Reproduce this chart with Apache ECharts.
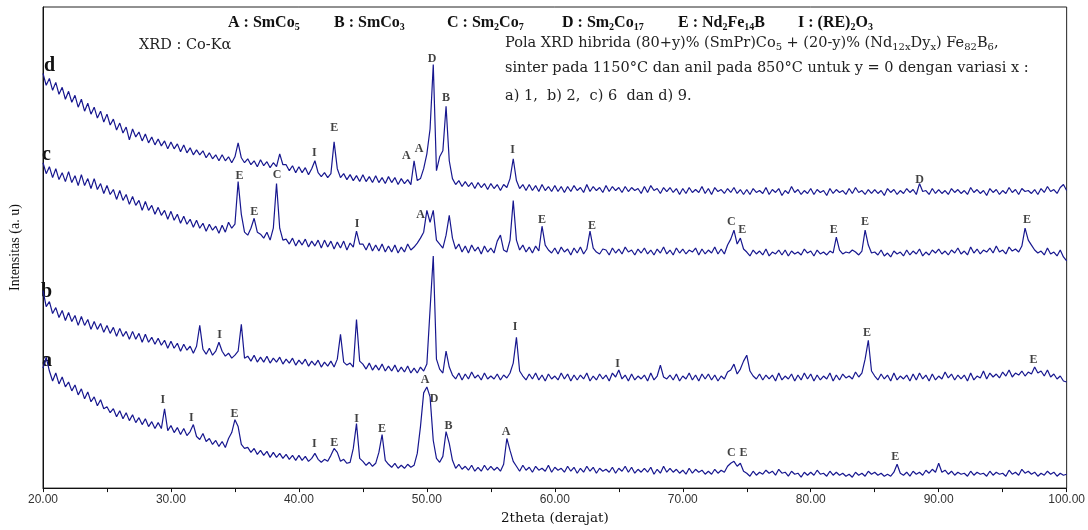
<!DOCTYPE html>
<html>
<head>
<meta charset="utf-8">
<script src="https://cdn.jsdelivr.net/npm/echarts@6/dist/echarts.min.js"></script>
<style>
  html, body { margin: 0; padding: 0; background: #fff; }
  #chart { width: 1088px; height: 530px; }
</style>
</head>
<body>
<div id="chart"></div>
<script>
// 2theta grid, 20.00 .. 100.00 every 0.25
const thetaStart = 20, thetaStep = 0.25, thetaCount = 321;
const twoTheta = Array.from({ length: thetaCount }, (_, i) => thetaStart + i * thetaStep);

// intensities (a.u., stacked offsets already included)
const traceD = [
  418,406,413,401, 409,397,404,392, 400,389,396,384, 392,380,388,377, 384,373,380,369,
  377,366,372,361, 368,358,364,351, 362,354,359,350, 357,348,354,346, 352,345,350,342,
  349,342,347,339, 346,338,343,336, 341,336,340,333, 338,332,336,330, 336,330,334,328,
  334,348,333,328, 332,326,330,324, 331,325,329,323, 328,324,337,326, 326,320,325,318,
  324,318,323,316, 322,330,318,314, 318,313,317,349, 322,313,317,311, 316,310,315,309,
  316,309,314,308, 315,308,313,307, 314,308,313,306, 312,307,311,306, 330,310,312,322,
  337,362,427,320, 334,340,385,330, 312,306,310,304, 309,304,308,302, 308,303,307,301,
  307,302,306,300, 306,303,312,332, 310,302,306,300, 306,300,305,299, 306,300,304,299,
  305,299,304,298, 304,299,305,300, 303,298,306,299, 304,300,303,298, 305,299,304,300,
  303,298,304,299, 303,300,302,297, 304,298,305,300, 302,297,303,299, 303,298,302,296,
  302,297,303,298, 301,298,304,297, 302,296,303,299, 301,297,302,298, 303,297,301,296,
  301,296,302,298, 300,297,303,296, 301,298,302,295, 300,297,304,298, 301,296,300,297,
  302,296,301,298, 300,295,302,297, 301,298,300,296, 302,297,303,298, 300,296,301,297,
  301,297,300,295, 302,298,301,296, 300,297,302,298, 301,296,307,299, 300,296,302,297,
  301,297,300,296, 302,298,301,297, 300,296,303,298, 301,297,300,295, 302,298,301,296,
  300,297,303,298, 301,296,302,299, 300,297,301,296, 302,298,304,299, 301,297,303,306,
  300
];
const traceC = [
  328,317,324,313, 322,311,318,309, 319,308,315,305, 316,305,312,302, 312,301,307,297,
  305,296,301,291, 300,290,296,286, 294,285,290,280, 289,280,285,276, 283,275,280,271,
  279,270,276,267, 274,266,271,263, 270,262,267,259, 266,260,264,257, 265,258,268,262,
  266,309,276,258, 255,262,272,258, 256,252,258,250, 262,307,262,250, 251,246,252,244,
  250,245,251,243, 249,244,250,242, 250,243,249,241, 248,242,249,240, 247,243,259,246,
  246,240,247,239, 245,239,246,238, 244,238,245,237, 243,238,246,240, 243,247,252,258,
  280,268,280,250, 246,242,255,275, 252,241,246,238, 244,237,245,239, 243,236,244,238,
  242,237,249,255, 240,238,250,290, 250,240,245,238, 243,237,244,239, 264,245,240,237,
  242,236,243,238, 241,235,242,237, 243,236,241,259, 242,238,236,241, 240,235,242,237,
  241,236,243,238, 240,235,241,237, 242,236,240,235, 241,237,243,236, 240,235,242,237,
  241,236,240,238, 242,235,241,236, 240,237,243,236, 241,236,245,251, 260,246,252,241,
  238,234,240,236, 239,235,241,234, 238,236,240,235, 240,234,239,236, 238,235,241,237,
  239,234,240,236, 238,235,239,237, 253,240,236,238, 237,240,238,235, 239,260,245,237,
  238,235,240,234, 237,233,239,236, 238,234,240,235, 239,236,241,234, 238,235,240,237,
  241,236,239,235, 240,237,242,236, 239,235,243,237, 241,236,240,238, 242,237,244,238,
  240,236,243,239, 241,238,244,262, 250,245,240,237, 239,235,242,236, 238,234,240,233,
  229
];
const traceB = [
  199,183,188,176, 182,172,179,169, 177,168,174,164, 173,164,170,160, 168,160,166,157,
  164,156,162,153, 161,153,158,150, 158,150,156,147, 155,147,152,145, 151,144,149,141,
  148,141,146,138, 145,139,143,136, 143,164,140,135, 141,134,138,147, 138,133,136,131,
  134,138,165,131, 133,128,134,127, 132,127,133,126, 131,127,132,125, 130,126,131,124,
  129,125,130,123, 128,124,129,122, 127,123,128,122, 130,155,127,124, 126,122,170,128,
  125,120,126,119, 124,119,125,118, 123,118,124,117, 122,117,123,116, 121,116,122,118,
  125,180,234,130, 120,116,138,122, 114,110,116,109, 115,110,117,111, 114,109,116,110,
  113,110,115,109, 114,111,116,126, 152,118,113,109, 115,110,116,109, 114,108,115,110,
  113,109,116,110, 115,108,114,109, 114,110,116,108, 113,109,115,110, 114,108,116,112,
  119,110,114,108, 115,109,113,110, 114,108,116,109, 113,124,112,110, 114,109,115,108,
  113,110,116,109, 114,108,115,110, 115,109,114,108, 113,110,117,119, 125,115,120,128,
  134,118,113,110, 115,109,114,110, 114,108,116,109, 113,110,115,108, 114,109,116,110,
  115,108,114,109, 113,110,116,108, 114,109,115,111, 113,110,117,112, 116,130,149,118,
  113,109,115,110, 114,108,116,109, 113,110,114,108, 115,109,116,110, 114,108,115,109,
  113,110,117,111, 115,109,114,110, 114,108,116,109, 113,111,118,110, 116,112,115,111,
  117,113,119,112, 116,114,118,113, 117,115,122,116, 118,113,119,112, 115,110,113,108,
  107
];
const traceA = [
  121,132,118,108, 116,105,112,102, 107,98,104,94, 100,90,97,87, 92,83,89,80,
  82,76,80,72, 78,70,76,68, 74,66,71,64, 70,62,67,60, 66,60,80,58,
  63,56,61,54, 60,53,57,64, 52,49,55,47, 50,44,48,42, 47,41,50,56,
  69,62,44,40, 41,36,40,34, 38,33,37,31, 36,31,35,30, 34,29,33,28,
  33,28,32,27, 30,35,29,26, 29,27,33,40, 36,27,29,25, 26,40,65,30,
  27,23,26,22, 25,36,54,28, 24,21,25,20, 23,20,24,21, 23,35,62,96,
  102,92,48,30, 26,32,57,45, 28,20,24,19, 22,18,23,17, 21,17,23,18,
  22,18,21,17, 24,50,38,27, 22,17,23,18, 21,16,22,18, 20,17,23,16,
  21,18,20,16, 22,17,21,15, 20,16,22,17, 21,15,20,17, 19,16,21,15,
  20,17,22,16, 21,15,19,16, 20,16,21,14, 19,15,22,16, 20,16,19,15,
  18,14,20,15, 19,16,18,14, 17,14,19,15, 18,16,22,25, 27,22,25,17,
  15,12,17,13, 16,14,18,15, 17,13,19,15, 16,12,17,14, 15,11,16,13,
  16,13,18,14, 15,12,17,13, 16,13,15,12, 14,11,16,13, 15,12,17,14,
  16,13,15,12, 14,12,16,24, 15,13,16,12, 17,14,16,13, 18,15,19,16,
  25,16,18,14, 17,13,16,14, 15,12,17,13, 16,14,15,12, 17,13,16,14,
  15,12,18,14, 16,13,19,15, 17,14,16,12, 15,13,17,14, 16,12,15,13,
  14
];

// phase marks: [2theta, height, letter]
const peakLabels = [
  [42.77,363,'E'],[41.2,338,'I'],[48.4,335,'A'],[49.4,342,'A'],[50.4,433,'D'],[51.5,393,'B'],[56.7,341,'I'],[88.5,311,'D'],
  [35.35,315,'E'],[36.5,278,'E'],[38.3,316,'C'],[44.55,266,'I'],[49.5,275,'A'],[59.0,270,'E'],[62.9,264,'E'],
  [73.8,268,'C'],[74.65,260,'E'],[81.8,260,'E'],[84.25,268,'E'],[96.9,270,'E'],
  [33.8,154,'I'],[56.9,162,'I'],[64.9,125,'I'],[84.4,156,'E'],[97.4,129,'E'],
  [29.36,89,'I'],[31.6,71,'I'],[34.97,75,'E'],[41.2,45,'I'],[42.77,46,'E'],[44.5,70,'I'],[46.5,60,'E'],
  [49.86,109,'A'],[50.57,90,'D'],[51.7,63,'B'],[56.2,57,'A'],[73.8,35,'C'],[74.75,35,'E'],[86.6,31,'E']
];

// phase legend along the top
const phaseKeys = ['A', 'B', 'C', 'D', 'E', 'I'];
const phaseFormulas = [
  '{b|SmCo}{s|5}',
  '{b|SmCo}{s|3}',
  '{b|Sm}{s|2}{b|Co}{s|7}',
  '{b|Sm}{s|2}{b|Co}{s|17}',
  '{b|Nd}{s|2}{b|Fe}{s|14}{b|B}',
  '{b|(RE)}{s|2}{b|O}{s|3}'
];
const phaseLeft = [228, 334, 447, 562, 678, 798];

const xTicks = [20, 30, 40, 50, 60, 70, 80, 90, 100];

const lineColor = '#17178f';
const serif = '"Liberation Serif", "DejaVu Serif", serif';
const wideSerif = '"DejaVu Serif", "Liberation Serif", serif';

function zip(vals) {
  return vals.map((v, i) => [twoTheta[i], v]);
}

function traceSeries(name, vals) {
  return {
    name: name,
    type: 'line',
    data: zip(vals),
    symbol: 'none',
    lineStyle: { color: lineColor, width: 1.2 },
    silent: true,
    animation: false
  };
}

const sub = { fontSize: 10, fontFamily: serif, fontWeight: 'bold', lineHeight: 19, verticalAlign: 'bottom', padding: [7, 0, 0, 0], fill: '#111' };
const subN = { fontSize: 10, fontFamily: wideSerif, lineHeight: 18, verticalAlign: 'bottom', padding: [6, 0, 0, 0], fill: '#222' };

const legendGraphics = phaseKeys.map((k, i) => ({
  type: 'text', left: phaseLeft[i], top: 15,
  style: {
    text: '{b|' + k + ' : }' + phaseFormulas[i],
    rich: {
      b: { fontFamily: serif, fontWeight: 'bold', fontSize: 16, lineHeight: 19, fill: '#111' },
      s: sub
    }
  }
}));

const chart = echarts.init(document.getElementById('chart'));
chart.setOption({
  animation: false,
  backgroundColor: '#fff',
  grid: { left: 41, right: 21, top: 7, bottom: 38, show: true, borderColor: '#222', borderWidth: 1 },
  xAxis: {
    type: 'value',
    min: 20,
    max: 100,
    interval: 5,
    name: '2theta (derajat)',
    nameLocation: 'middle',
    nameGap: 21,
    nameTextStyle: { fontFamily: wideSerif, fontSize: 13.5, color: '#111' },
    axisLine: { lineStyle: { color: '#111', width: 1 } },
    axisTick: { show: true, length: 4, lineStyle: { color: '#111' } },
    axisLabel: {
      margin: 6,
      fontFamily: '"Liberation Sans", Arial, sans-serif',
      fontSize: 12,
      color: '#333',
      formatter: v => xTicks.includes(v) ? v.toFixed(2) : ''
    },
    splitLine: { show: false }
  },
  yAxis: {
    type: 'value',
    min: 0,
    max: 485,
    name: 'Intensitas (a. u)',
    nameLocation: 'middle',
    nameRotate: 90,
    nameGap: 21,
    nameTextStyle: { fontFamily: serif, fontSize: 14, color: '#111' },
    axisLine: { show: true, lineStyle: { color: '#111', width: 1 } },
    axisTick: { show: false },
    axisLabel: { show: false },
    splitLine: { show: false }
  },
  series: [
    traceSeries('d', traceD),
    traceSeries('c', traceC),
    traceSeries('b', traceB),
    traceSeries('a', traceA),
    {
      type: 'scatter',
      symbolSize: 0,
      silent: true,
      data: peakLabels.map(p => ({ value: [p[0], p[1]], label: { formatter: p[2] } })),
      label: {
        show: true,
        position: 'inside',
        fontFamily: serif,
        fontWeight: 'bold',
        fontSize: 12,
        color: '#111'
      }
    }
  ],
  graphic: legendGraphics.concat([
    {
      type: 'text', left: 139, top: 38,
      style: { text: 'XRD : Co-K\u03b1', fontFamily: wideSerif, fontSize: 14.5, fill: '#222' }
    },
    {
      type: 'text', left: 505, top: 36,
      style: {
        text: '{n|Pola XRD hibrida (80+y)% (SmPr)Co}{s|5}{n| + (20-y)% (Nd}{s|12x}{n|Dy}{s|x}{n|) Fe}{s|82}{n|B}{s|6}{n|,}',
        rich: { n: { fontFamily: wideSerif, fontSize: 14.5, lineHeight: 18, fill: '#222' }, s: subN }
      }
    },
    {
      type: 'text', left: 505, top: 61,
      style: { text: 'sinter pada 1150\u00b0C dan anil pada 850\u00b0C untuk y = 0 dengan variasi x :', fontFamily: wideSerif, fontSize: 14.5, fill: '#222' }
    },
    {
      type: 'text', left: 505, top: 89,
      style: { text: 'a) 1,  b) 2,  c) 6  dan d) 9.', fontFamily: wideSerif, fontSize: 14.5, fill: '#222' }
    },
    { type: 'text', left: 44, top: 56, style: { text: 'd', fontFamily: serif, fontWeight: 'bold', fontSize: 20, fill: '#111' } },
    { type: 'text', left: 42, top: 145, style: { text: 'c', fontFamily: serif, fontWeight: 'bold', fontSize: 20, fill: '#111' } },
    { type: 'text', left: 41, top: 282, style: { text: 'b', fontFamily: serif, fontWeight: 'bold', fontSize: 20, fill: '#111' } },
    { type: 'text', left: 42, top: 351, style: { text: 'a', fontFamily: serif, fontWeight: 'bold', fontSize: 20, fill: '#111' } }
  ])
});
</script>
</body>
</html>
